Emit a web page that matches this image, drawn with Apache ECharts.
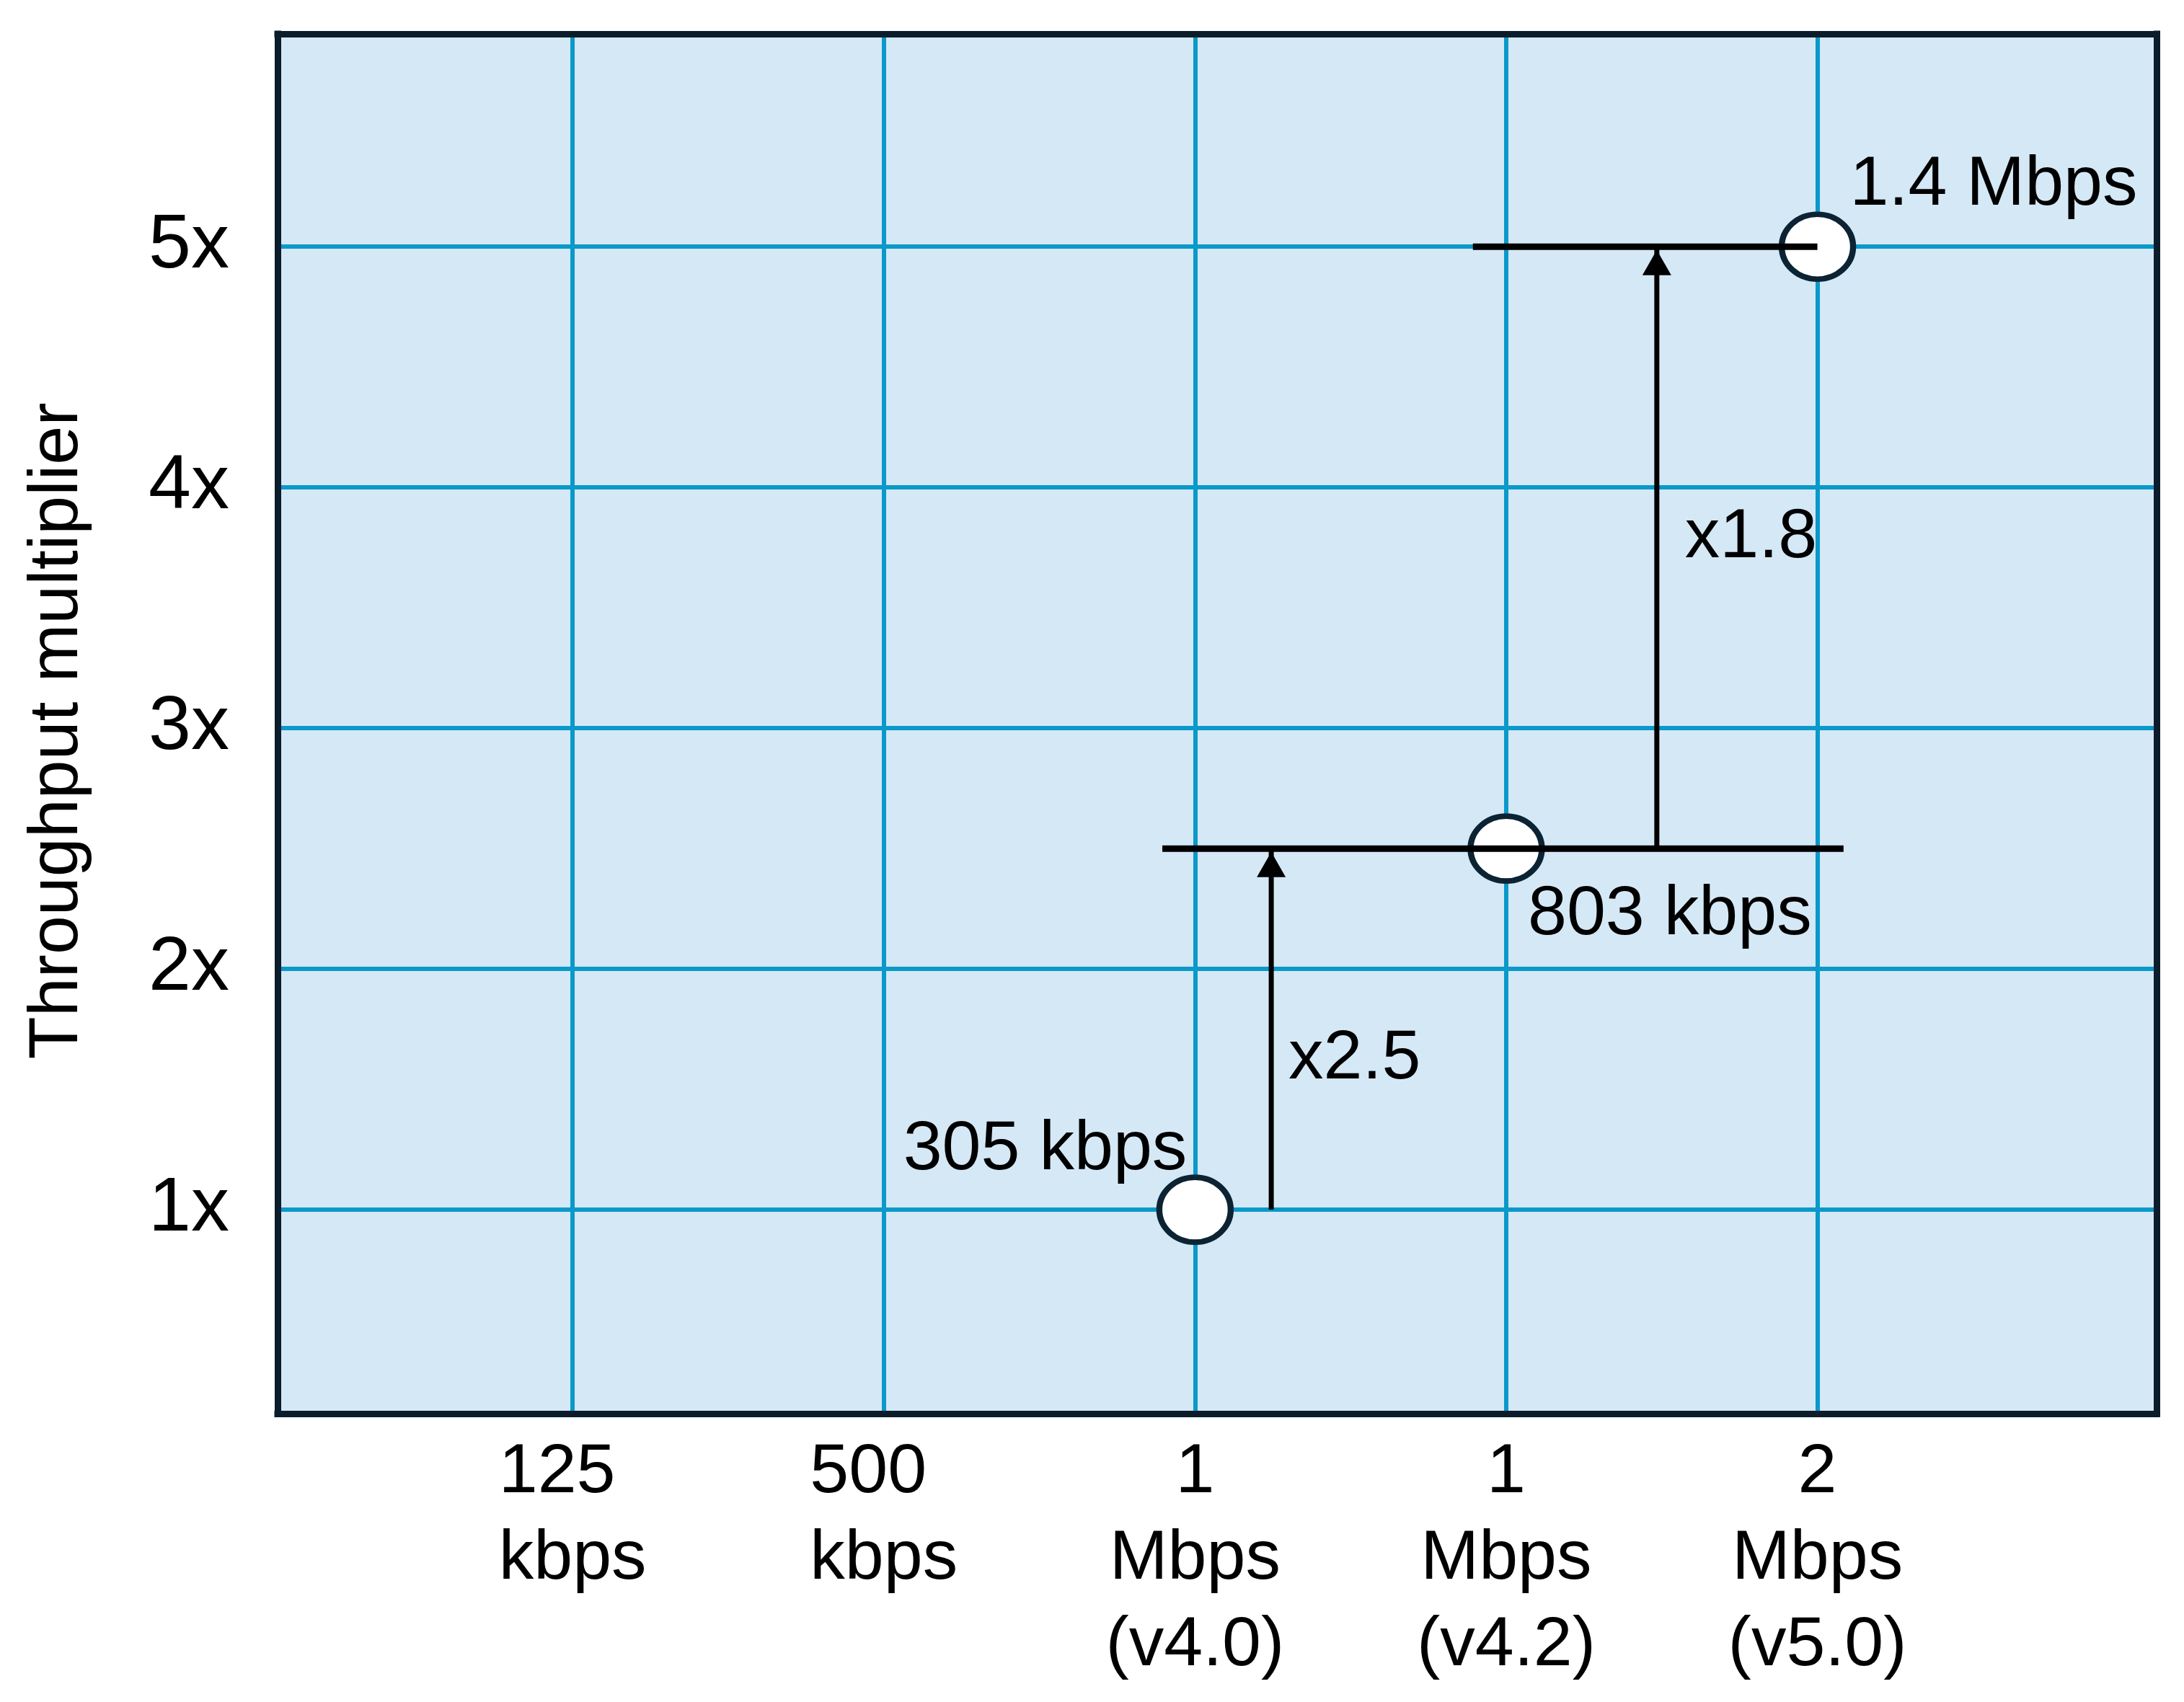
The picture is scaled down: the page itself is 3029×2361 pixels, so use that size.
<!DOCTYPE html>
<html>
<head>
<meta charset="utf-8">
<script src="https://cdn.jsdelivr.net/npm/echarts@6/dist/echarts.min.js"></script>
<style>
html,body{margin:0;padding:0;background:#ffffff;}
#chart{width:3029px;height:2361px;}
</style>
</head>
<body>
<div id="chart"></div>
<script>
// ---------- data ----------
const xCategories = ['125\nkbps', '500\nkbps', '1\nMbps\n(v4.0)', '1\nMbps\n(v4.2)', '2\nMbps\n(v5.0)'];
const xPositions = [1, 2, 3, 4, 5];
const yTicks = [1, 2, 3, 4, 5];
const yTickLabels = ['1x', '2x', '3x', '4x', '5x'];
const yAxisTitle = 'Throughput multiplier';

const pointX = [3, 4, 5];
const pointY = [1, 2.5, 5];
const pointLabels = ['305 kbps', '803 kbps', '1.4 Mbps'];

const levelY = [2.5, 5];
const levelFrom = [2.895, 3.893];
const levelTo = [5.084, 5.0];

const arrowX = [3.245, 4.484];
const arrowFrom = [1, 2.5];
const arrowTo = [2.5, 5];
const arrowLabels = ['x2.5', 'x1.8'];

const xRange = [0.052, 6.09];
const yRange = [0.153, 5.884];

// ---------- styles ----------
const FONT = "'Liberation Sans', Arial, sans-serif";
const FS = 97;
const FS_Y = 106;
const TEXT = '#000000';
const FRAME = '#0b1c2a';
const GRIDLINE = '#0a99ca';
const xLabelAlign = ['left', 'left', 'center', 'center', 'center'];
const pointLabelStyle = [
  { align: 'right', offset: [-11, -83] },
  { align: 'left', offset: [30, 92] },
  { align: 'left', offset: [45, -85] }
];
const arrowLabelOffset = [[24, 42], [39, -13]];

const frameLine = { show: true, onZero: false, lineStyle: { color: FRAME, width: 9, cap: 'square' } };
const txt = { fontSize: FS, fontFamily: FONT, color: TEXT };

const series = [];

// gridlines at the tick values
series.push({
  type: 'line', data: [], z: 1, silent: true,
  markLine: {
    z: 1, silent: true, animation: false, symbol: ['none', 'none'],
    label: { show: false },
    lineStyle: { color: GRIDLINE, width: 6, type: 'solid', opacity: 1 },
    emphasis: { disabled: true },
    data: yTicks.map(v => ({ yAxis: v })).concat(xPositions.map(v => ({ xAxis: v })))
  }
});

// data points (circles)
series.push({
  type: 'scatter', z: 4, symbol: 'circle', symbolSize: [99, 90],
  itemStyle: { color: '#ffffff', borderColor: '#0b2333', borderWidth: 8, opacity: 1 },
  emphasis: { disabled: true },
  data: pointX.map((x, i) => ({
    value: [x, pointY[i]],
    label: Object.assign({
      show: true, formatter: pointLabels[i], position: 'inside',
      align: pointLabelStyle[i].align, verticalAlign: 'middle',
      offset: pointLabelStyle[i].offset
    }, txt)
  }))
});

// level lines
levelY.forEach((y, i) => {
  series.push({
    type: 'line', z: 5, symbol: 'none', silent: true,
    lineStyle: { color: '#000000', width: 9, cap: 'butt' },
    data: [[levelFrom[i], y], [levelTo[i], y]]
  });
});

// arrow shafts
arrowX.forEach((x, i) => {
  series.push({
    type: 'line', z: 5, symbol: 'none', silent: true,
    lineStyle: { color: '#000000', width: 7, cap: 'butt' },
    data: [[x, arrowFrom[i]], [x, arrowTo[i]]]
  });
});

// arrow heads
series.push({
  type: 'scatter', z: 6, symbol: 'triangle', symbolSize: [40, 35], symbolOffset: [0, 22],
  itemStyle: { color: '#000000', opacity: 1 }, silent: true,
  data: arrowX.map((x, i) => [x, arrowTo[i]])
});

// arrow labels (ratio)
series.push({
  type: 'scatter', z: 6, symbol: 'circle', symbolSize: 1, silent: true,
  itemStyle: { color: 'rgba(0,0,0,0)', opacity: 1 },
  emphasis: { disabled: true },
  data: arrowX.map((x, i) => ({
    value: [x, (arrowFrom[i] + arrowTo[i]) / 2],
    label: Object.assign({
      show: true, formatter: arrowLabels[i], position: 'inside',
      align: 'left', verticalAlign: 'middle', offset: arrowLabelOffset[i]
    }, txt)
  }))
});

const richStyles = {
  l: { align: 'left', fontSize: FS, lineHeight: 120, fontFamily: FONT, color: TEXT },
  c: { align: 'center', fontSize: FS, lineHeight: 120, fontFamily: FONT, color: TEXT }
};

const option = {
  animation: false,
  backgroundColor: '#ffffff',
  grid: { left: 385, right: 38, top: 47, bottom: 400, show: true, backgroundColor: '#d5e8f6', borderWidth: 0 },
  xAxis: [
    {
      type: 'value', position: 'bottom', min: xRange[0], max: xRange[1], z: 10,
      axisLine: frameLine, axisTick: { show: false }, splitLine: { show: false },
      axisLabel: {
        customValues: xPositions, margin: 22, fontSize: FS, fontFamily: FONT, color: TEXT, lineHeight: 120,
        formatter: function (v) {
          const i = xPositions.indexOf(v);
          if (i < 0) return '';
          const key = xLabelAlign[i] === 'left' ? 'l' : 'c';
          return xCategories[i].split('\n').map(s => '{' + key + '|' + s + '}').join('\n');
        },
        rich: richStyles
      }
    },
    {
      type: 'value', position: 'top', min: xRange[0], max: xRange[1], z: 10,
      axisLine: frameLine, axisTick: { show: false }, splitLine: { show: false }, axisLabel: { show: false }
    }
  ],
  yAxis: [
    {
      type: 'value', position: 'left', min: yRange[0], max: yRange[1], z: 10,
      axisLine: frameLine, axisTick: { show: false }, splitLine: { show: false },
      axisLabel: {
        customValues: yTicks, margin: 67, fontSize: FS_Y, fontFamily: FONT, color: TEXT,
        formatter: function (v) { const i = yTicks.indexOf(v); return i < 0 ? '' : yTickLabels[i]; }
      },
      name: yAxisTitle, nameLocation: 'middle', nameRotate: 90, nameGap: 256,
      nameTextStyle: { fontSize: FS, fontFamily: FONT, color: TEXT, padding: [0, 20, 0, 0] }
    },
    {
      type: 'value', position: 'right', min: yRange[0], max: yRange[1], z: 10,
      axisLine: frameLine, axisTick: { show: false }, splitLine: { show: false }, axisLabel: { show: false }
    }
  ],
  series: series
};

const chart = echarts.init(document.getElementById('chart'), null, { renderer: 'canvas' });
chart.setOption(option);
</script>
</body>
</html>
